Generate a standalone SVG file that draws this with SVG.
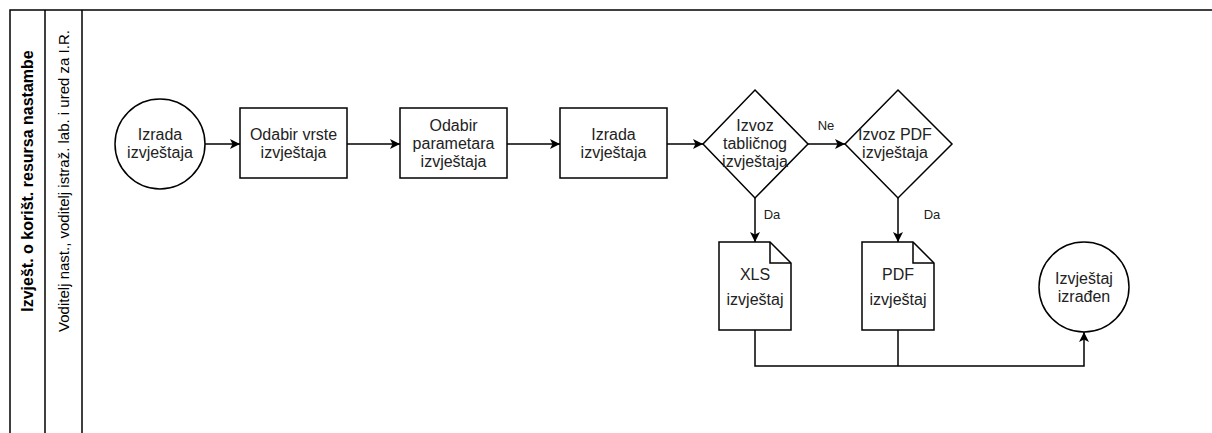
<svg xmlns="http://www.w3.org/2000/svg" width="1212" height="433" viewBox="0 0 1212 433">
  <defs>
    <style>
      .shape { fill: #ffffff; stroke: #000000; stroke-width: 1.5; }
      .lane { fill: none; stroke: #000000; stroke-width: 1.5; }
      .edge { fill: none; stroke: #000000; stroke-width: 1.5; }
      .txt { font-family: "Liberation Sans", Arial, sans-serif; font-size: 16px; fill: #222222; text-anchor: middle; }
      .lbl { font-family: "Liberation Sans", Arial, sans-serif; font-size: 13px; fill: #222222; text-anchor: middle; }
      .pool { font-family: "Liberation Sans", Arial, sans-serif; font-size: 16px; font-weight: bold; fill: #000000; text-anchor: middle; }
      .role { font-family: "Liberation Sans", Arial, sans-serif; font-size: 15px; fill: #000000; text-anchor: middle; }
    </style>
    <marker id="arrow" viewBox="0 0 10 10" refX="10" refY="5" markerWidth="10" markerHeight="10" markerUnits="userSpaceOnUse" orient="auto">
      <path d="M0,0 L10,5 L0,10 L2.5,5 Z" fill="#000000"/>
    </marker>
  </defs>

  <rect width="1212" height="433" fill="#ffffff"/>

  <!-- pool and lane frame -->
  <g id="pool">
    <path class="lane" d="M1212,10 L10,10 L10,433"/>
    <line class="lane" x1="45" y1="10" x2="45" y2="433"/>
    <line class="lane" x1="82" y1="10" x2="82" y2="433"/>
    <text class="pool" transform="translate(33,181) rotate(-90)">Izvješt. o korišt. resursa nastambe</text>
    <text class="role" transform="translate(69,181) rotate(-90)">Voditelj nast., voditelj istraž. lab. i ured za I.R.</text>
  </g>

  <!-- connectors -->
  <g id="connectors">
    <line class="edge" x1="205" y1="144" x2="240" y2="144" marker-end="url(#arrow)"/>
    <line class="edge" x1="347" y1="144" x2="400" y2="144" marker-end="url(#arrow)"/>
    <line class="edge" x1="507" y1="144" x2="560" y2="144" marker-end="url(#arrow)"/>
    <line class="edge" x1="667" y1="144" x2="703" y2="144" marker-end="url(#arrow)"/>
    <line class="edge" x1="808" y1="144" x2="845" y2="144" marker-end="url(#arrow)"/>
    <text class="lbl" x="826" y="130">Ne</text>
    <line class="edge" x1="755" y1="198" x2="755" y2="242" marker-end="url(#arrow)"/>
    <text class="lbl" x="772" y="219">Da</text>
    <line class="edge" x1="898" y1="198" x2="898" y2="242" marker-end="url(#arrow)"/>
    <text class="lbl" x="932" y="219">Da</text>
    <path class="edge" d="M755,330 L755,366 L1084,366 L1084,332" marker-end="url(#arrow)"/>
    <line class="edge" x1="898" y1="330" x2="898" y2="366"/>
  </g>

  <g id="start">
    <circle class="shape" cx="160" cy="144" r="45"/>
    <text class="txt" x="160" y="140">Izrada</text>
    <text class="txt" x="160" y="158">izvještaja</text>
  </g>

  <g id="odabir-vrste">
    <rect class="shape" x="240" y="108" width="107" height="70"/>
    <text class="txt" x="293.5" y="140">Odabir vrste</text>
    <text class="txt" x="293.5" y="158">izvještaja</text>
  </g>

  <g id="odabir-parametara">
    <rect class="shape" x="400" y="108" width="107" height="70"/>
    <text class="txt" x="453.5" y="131">Odabir</text>
    <text class="txt" x="453.5" y="149">parametara</text>
    <text class="txt" x="453.5" y="167">izvještaja</text>
  </g>

  <g id="izrada">
    <rect class="shape" x="560" y="108" width="107" height="70"/>
    <text class="txt" x="613.5" y="140">Izrada</text>
    <text class="txt" x="613.5" y="158">izvještaja</text>
  </g>

  <g id="izvoz-tablicnog">
    <polygon class="shape" points="755,90 808,144 755,198 703,144"/>
    <text class="txt" x="755" y="131">Izvoz</text>
    <text class="txt" x="755" y="149">tabličnog</text>
    <text class="txt" x="755" y="167">izvještaja</text>
  </g>

  <g id="izvoz-pdf">
    <polygon class="shape" points="898,90 952,144 898,198 845,144"/>
    <text class="txt" x="895" y="140">Izvoz PDF</text>
    <text class="txt" x="895" y="158">izvještaja</text>
  </g>

  <g id="xls-izvjestaj">
    <path class="shape" d="M719,242 L770,242 L791,263 L791,330 L719,330 Z"/>
    <path class="edge" d="M770,242 L770,263 L791,263"/>
    <text class="txt" x="755" y="280">XLS</text>
    <text class="txt" x="755" y="305">izvještaj</text>
  </g>

  <g id="pdf-izvjestaj">
    <path class="shape" d="M862,242 L913,242 L934,263 L934,330 L862,330 Z"/>
    <path class="edge" d="M913,242 L913,263 L934,263"/>
    <text class="txt" x="898" y="280">PDF</text>
    <text class="txt" x="898" y="305">izvještaj</text>
  </g>

  <g id="end">
    <circle class="shape" cx="1084" cy="287" r="45"/>
    <text class="txt" x="1084" y="284">Izvještaj</text>
    <text class="txt" x="1084" y="302">izrađen</text>
  </g>
</svg>
